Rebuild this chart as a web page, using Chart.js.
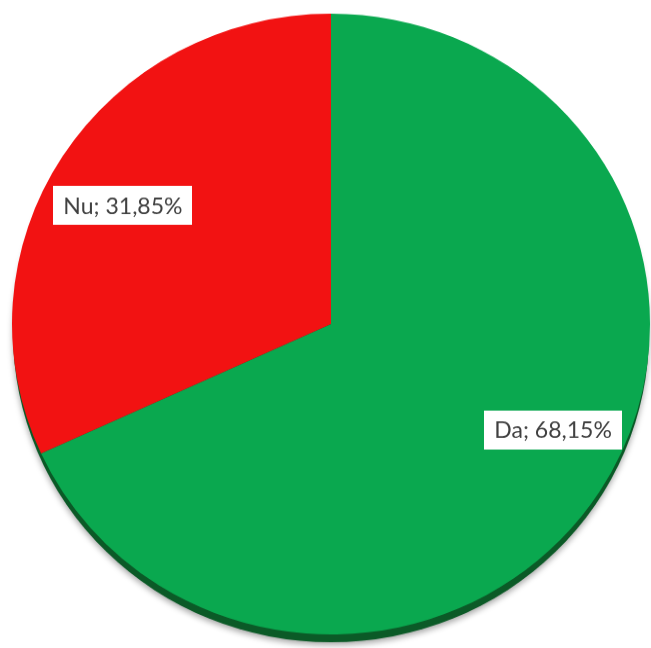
<!DOCTYPE html>
<html>
<head>
<meta charset="utf-8">
<script src="https://cdn.jsdelivr.net/npm/chart.js@4.4.0/dist/chart.umd.min.js"></script>
<style>
  html, body { margin: 0; padding: 0; background: #ffffff; overflow: hidden; }
  #wrap { width: 651px; height: 648px; position: relative; overflow: hidden; }
  #c { display: block; transform-origin: 0 0; transform: scaleY(0.973); }
</style>
</head>
<body>
<div id="wrap"><canvas id="c" width="651" height="666"></canvas></div>
<script>
const categories = ["Da", "Nu"];
const values = [68.15, 31.85];
const sliceColors = ["#0aa84f", "#f21212"];

const rimPlugin = {
  id: 'pieRim',
  beforeDatasetsDraw(chart, args, opts) {
    const arc = chart.getDatasetMeta(0).data[0];
    if (!arc) return;
    const p = arc.getProps(['x', 'y', 'outerRadius'], true);
    const ctx = chart.ctx;
    ctx.save();
    ctx.shadowColor = 'rgba(0,0,0,0.35)';
    ctx.shadowBlur = 6;
    ctx.shadowOffsetY = 3;
    ctx.fillStyle = opts.color;
    ctx.beginPath();
    ctx.arc(p.x, p.y + opts.depth, p.outerRadius - 1, 0, Math.PI * 2);
    ctx.fill();
    ctx.restore();
  }
};

const labelPlugin = {
  id: 'boxLabels',
  afterDraw(chart, args, opts) {
    const ctx = chart.ctx;
    const meta = chart.getDatasetMeta(0);
    const data = chart.data.datasets[0].data;
    const total = data.reduce((a, b) => a + b, 0);
    meta.data.forEach((arc, i) => {
      const p = arc.getProps(['x', 'y', 'startAngle', 'endAngle', 'outerRadius'], true);
      const mid = (p.startAngle + p.endAngle) / 2;
      const off = opts.offsets[i] || [0, 0];
      const cx = p.x + Math.cos(mid) * p.outerRadius * opts.radiusFraction + off[0];
      const cy = p.y + Math.sin(mid) * p.outerRadius * opts.radiusFraction + off[1];
      const pct = (data[i] / total * 100).toFixed(2).replace('.', ',');
      const text = chart.data.labels[i] + '; ' + pct + '%';
      ctx.save();
      ctx.font = opts.font;
      const w = ctx.measureText(text).width;
      const bw = w + opts.padX * 2, bh = opts.boxHeight;
      ctx.fillStyle = '#ffffff';
      ctx.fillRect(Math.round(cx - bw / 2), Math.round(cy - bh / 2), Math.round(bw), bh);
      ctx.fillStyle = '#404040';
      ctx.textAlign = 'center';
      ctx.textBaseline = 'middle';
      ctx.fillText(text, cx, cy + 1);
      ctx.restore();
    });
  }
};

new Chart(document.getElementById('c'), {
  type: 'pie',
  data: {
    labels: categories,
    datasets: [{
      data: values,
      backgroundColor: sliceColors,
      borderWidth: 0,
      hoverOffset: 0
    }]
  },
  options: {
    responsive: false,
    animation: false,
    layout: { padding: { left: 12, right: 1, top: 14, bottom: 14 } },
    plugins: {
      legend: { display: false },
      tooltip: { enabled: false },
      pieRim: { color: '#0b5a27', depth: 9 },
      boxLabels: {
        radiusFraction: 0.76,
        offsets: [[18, -22], [-4, 9]],
        font: '23px Lato',
        padX: 10,
        boxHeight: 40
      }
    }
  },
  plugins: [rimPlugin, labelPlugin]
});
</script>
</body>
</html>
